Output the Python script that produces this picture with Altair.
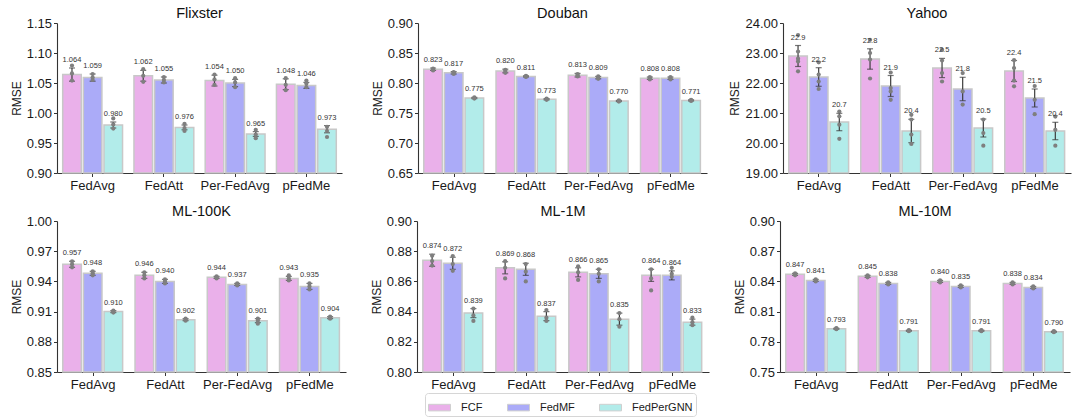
import altair as alt
import pandas as pd

methods = ["FedAvg", "FedAtt", "Per-FedAvg", "pFedMe"]
models = ["FCF", "FedMF", "FedPerGNN"]
colors = ["#EAB0EA", "#ABABF8", "#B2ECEA"]

# ---------------- Flixster ----------------
flixster_mean = {"FCF": [1.064, 1.062, 1.054, 1.048],
                 "FedMF": [1.059, 1.055, 1.050, 1.046],
                 "FedPerGNN": [0.980, 0.976, 0.965, 0.973]}
flixster_err = {"FCF": [0.011, 0.009, 0.009, 0.009],
                "FedMF": [0.006, 0.005, 0.006, 0.005],
                "FedPerGNN": [0.005, 0.004, 0.004, 0.006]}
flixster_dots = {"FCF": [[1.079, 1.066, 1.054], [1.073, 1.062, 1.052], [1.064, 1.056, 1.047], [1.058, 1.047, 1.038]],
                 "FedMF": [[1.065, 1.059, 1.055], [1.060, 1.055, 1.051], [1.058, 1.051, 1.043], [1.054, 1.049, 1.043]],
                 "FedPerGNN": [[0.991, 0.981, 0.974], [0.982, 0.975, 0.970], [0.972, 0.964, 0.958], [0.977, 0.970, 0.960]]}
flixster_ticks = [0.90, 0.95, 1.00, 1.05, 1.10, 1.15]

# ---------------- Douban ----------------
douban_mean = {"FCF": [0.823, 0.820, 0.813, 0.808],
               "FedMF": [0.817, 0.811, 0.809, 0.808],
               "FedPerGNN": [0.775, 0.773, 0.770, 0.771]}
douban_err = {"FCF": [0.002, 0.003, 0.003, 0.002],
              "FedMF": [0.002, 0.001, 0.002, 0.002],
              "FedPerGNN": [0.001, 0.001, 0.001, 0.001]}
douban_dots = {"FCF": [[0.824, 0.822, 0.821], [0.822, 0.820, 0.817], [0.815, 0.813, 0.811], [0.810, 0.808, 0.806]],
               "FedMF": [[0.818, 0.817, 0.815], [0.812, 0.811, 0.810], [0.811, 0.809, 0.807], [0.810, 0.808, 0.806]],
               "FedPerGNN": [[0.776, 0.775, 0.774], [0.774, 0.773, 0.772], [0.771, 0.770, 0.769], [0.772, 0.771, 0.770]]}
douban_ticks = [0.65, 0.70, 0.75, 0.80, 0.85, 0.90]

# ---------------- Yahoo ----------------
yahoo_mean = {"FCF": [22.9, 22.8, 22.5, 22.4],
              "FedMF": [22.2, 21.9, 21.8, 21.5],
              "FedPerGNN": [20.7, 20.4, 20.5, 20.4]}
yahoo_err = {"FCF": [0.35, 0.34, 0.32, 0.35],
             "FedMF": [0.31, 0.35, 0.39, 0.30],
             "FedPerGNN": [0.29, 0.39, 0.30, 0.29]}
yahoo_dots = {"FCF": [[23.6, 23.05, 22.81, 22.72, 22.39], [23.44, 23.0, 22.78, 22.15], [23.11, 22.75, 22.33, 22.05], [22.76, 22.5, 22.08, 21.89]],
              "FedMF": [[22.69, 22.28, 22.05, 21.8], [22.35, 21.83, 21.72, 21.44], [22.33, 21.72, 21.28], [21.9, 21.44, 20.96]],
              "FedPerGNN": [[21.05, 20.89, 20.61, 20.14], [20.94, 20.78, 20.28, 19.97], [20.78, 20.33, 19.91], [20.88, 20.44, 19.91]]}
yahoo_ticks = [19, 20, 21, 22, 23, 24]

# ---------------- ML-100K ----------------
ml100k_mean = {"FCF": [0.957, 0.946, 0.944, 0.943],
               "FedMF": [0.948, 0.940, 0.937, 0.935],
               "FedPerGNN": [0.910, 0.902, 0.901, 0.904]}
ml100k_err = {"FCF": [0.003, 0.003, 0.001, 0.002],
              "FedMF": [0.002, 0.002, 0.001, 0.003],
              "FedPerGNN": [0.001, 0.001, 0.002, 0.001]}
ml100k_dots = {"FCF": [[0.960, 0.957, 0.954], [0.949, 0.946, 0.943], [0.945, 0.944, 0.943], [0.946, 0.943, 0.941]],
               "FedMF": [[0.950, 0.948, 0.946], [0.942, 0.940, 0.938], [0.938, 0.937, 0.936], [0.938, 0.935, 0.932]],
               "FedPerGNN": [[0.911, 0.910, 0.909], [0.903, 0.902, 0.901], [0.903, 0.901, 0.898], [0.905, 0.904, 0.903]]}
ml100k_ticks = [0.85, 0.88, 0.91, 0.94, 0.97, 1.00]

# ---------------- ML-1M ----------------
ml1m_mean = {"FCF": [0.874, 0.869, 0.866, 0.864],
             "FedMF": [0.872, 0.868, 0.865, 0.864],
             "FedPerGNN": [0.839, 0.837, 0.835, 0.833]}
ml1m_err = {"FCF": [0.004, 0.004, 0.003, 0.004],
            "FedMF": [0.004, 0.004, 0.003, 0.003],
            "FedPerGNN": [0.003, 0.003, 0.004, 0.002]}
ml1m_dots = {"FCF": [[0.877, 0.8735, 0.8705], [0.8734, 0.869, 0.862], [0.870, 0.866, 0.861], [0.868, 0.862, 0.854]],
             "FedMF": [[0.8768, 0.8715, 0.867], [0.8715, 0.8664, 0.860], [0.868, 0.865, 0.860], [0.869, 0.865, 0.863]],
             "FedPerGNN": [[0.842, 0.8375, 0.8338], [0.841, 0.836, 0.8338], [0.839, 0.835, 0.830], [0.836, 0.833, 0.831]]}
ml1m_ticks = [0.80, 0.82, 0.84, 0.86, 0.88, 0.90]

# ---------------- ML-10M ----------------
ml10m_mean = {"FCF": [0.847, 0.845, 0.840, 0.838],
              "FedMF": [0.841, 0.838, 0.835, 0.834],
              "FedPerGNN": [0.793, 0.791, 0.791, 0.790]}
ml10m_err = {"FCF": [0.001, 0.001, 0.001, 0.001],
             "FedMF": [0.001, 0.001, 0.001, 0.001],
             "FedPerGNN": [0.0005, 0.0005, 0.0005, 0.0005]}
ml10m_dots = {"FCF": [[0.848, 0.847, 0.846], [0.846, 0.845, 0.844], [0.841, 0.840, 0.839], [0.839, 0.838, 0.837]],
              "FedMF": [[0.842, 0.841, 0.840], [0.839, 0.838, 0.837], [0.836, 0.835, 0.834], [0.835, 0.834, 0.833]],
              "FedPerGNN": [[0.7935, 0.793, 0.7925], [0.7915, 0.791, 0.7905], [0.7915, 0.791, 0.7905], [0.7905, 0.790, 0.7895]]}
ml10m_ticks = [0.75, 0.78, 0.81, 0.84, 0.87, 0.90]

TEXT = "#1a1a1a"


def panel(title, mean, err, dots, ticks, tickfmt, labfmt, width, height):
    rows, drows = [], []
    for m in models:
        for i, meth in enumerate(methods):
            v = mean[m][i]
            e = err[m][i]
            rows.append(dict(method=meth, model=m, value=v, base=ticks[0],
                             lo=v - e, hi=v + e, label=format(v, labfmt)))
            for d in dots[m][i]:
                drows.append(dict(method=meth, model=m, value=d))
    df = pd.DataFrame(rows)
    ddf = pd.DataFrame(drows)

    xs = alt.Scale(paddingInner=0.16, paddingOuter=0.08)
    xax = alt.Axis(title=None, labelAngle=0)
    x = alt.X("method:N", sort=methods, scale=xs, axis=xax)
    xo = alt.XOffset("model:N", sort=models, scale=alt.Scale(paddingInner=0.1, paddingOuter=0))
    ys = alt.Scale(domain=[ticks[0], ticks[-1]], zero=False, nice=False)
    yax = alt.Axis(values=ticks, format=tickfmt, title="RMSE")
    color = alt.Color("model:N", sort=models,
                      scale=alt.Scale(domain=models, range=colors),
                      legend=alt.Legend(title=None, orient="none", legendX=368, legendY=370,
                                        direction="horizontal",
                                        symbolType="M-1,-0.3L1,-0.3L1,0.3L-1,0.3Z",
                                        symbolSize=484, symbolStrokeColor="#cfcfcf",
                                        symbolStrokeWidth=1, labelFontSize=11,
                                        labelColor=TEXT, labelOffset=10,
                                        columnPadding=22, padding=3,
                                        strokeColor="#d6d6d6", cornerRadius=3,
                                        fillColor="white"))

    base = alt.Chart(df)
    bars = base.mark_bar(stroke="#c8c8c8", strokeWidth=1.5).encode(
        x=x, xOffset=xo, y=alt.Y("value:Q", scale=ys, axis=yax), y2="base:Q", color=color)
    rules = base.mark_rule(color="#3c3c3c", strokeWidth=1.2).encode(
        x=x, xOffset=xo, y=alt.Y("lo:Q", scale=ys, axis=yax), y2="hi:Q")
    cap_lo = base.mark_tick(color="#3c3c3c", size=6, thickness=1.2, orient="horizontal").encode(
        x=x, xOffset=xo, y=alt.Y("lo:Q", scale=ys, axis=yax))
    cap_hi = base.mark_tick(color="#3c3c3c", size=6, thickness=1.2, orient="horizontal").encode(
        x=x, xOffset=xo, y=alt.Y("hi:Q", scale=ys, axis=yax))
    pts = alt.Chart(ddf).mark_circle(color="#7f7f7f", size=18, opacity=1).encode(
        x=x, xOffset=xo, y=alt.Y("value:Q", scale=ys, axis=yax))
    text = base.mark_text(dy=-8, fontSize=7.5, color="#333333", baseline="middle").encode(
        x=x, xOffset=xo, y=alt.Y("hi:Q", scale=ys, axis=yax), text="label:N")
    return alt.layer(bars, rules, cap_lo, cap_hi, pts, text).properties(
        width=width, height=height, title=title)


p1 = panel("Flixster", flixster_mean, flixster_err, flixster_dots, flixster_ticks, ".2f", ".3f", 285, 150)
p2 = panel("Douban", douban_mean, douban_err, douban_dots, douban_ticks, ".2f", ".3f", 289, 150)
p3 = panel("Yahoo", yahoo_mean, yahoo_err, yahoo_dots, yahoo_ticks, ".2f", ".1f", 288, 150)
p4 = panel("ML-100K", ml100k_mean, ml100k_err, ml100k_dots, ml100k_ticks, ".2f", ".3f", 289, 151)
p5 = panel("ML-1M", ml1m_mean, ml1m_err, ml1m_dots, ml1m_ticks, ".2f", ".3f", 292, 151)
p6 = panel("ML-10M", ml10m_mean, ml10m_err, ml10m_dots, ml10m_ticks, ".2f", ".3f", 290, 151)

row1 = alt.hconcat(p1, p2, p3, spacing=76, bounds="flush")
row2 = alt.hconcat(p4, p5, p6, spacing=71, bounds="flush")

chart = alt.vconcat(row1, row2, spacing=11).configure(
    font="Liberation Sans",
    padding={"left": 10, "top": 5, "right": 5, "bottom": 5},
).configure_view(stroke=None).configure_axis(
    grid=False,
    domainColor="#333333", domainWidth=1.1,
    tickColor="#333333", tickSize=3.5, tickWidth=1,
    labelFontSize=13, labelColor=TEXT, labelPadding=2,
    titleFontSize=12, titleFontWeight="normal", titleColor=TEXT, titlePadding=3,
).configure_axisX(labelPadding=2.5).configure_title(
    fontSize=14.5, fontWeight="normal", color="#111111", offset=-4, anchor="middle"
)

chart.save("out.html", embed_options={"renderer": "svg", "actions": False})
